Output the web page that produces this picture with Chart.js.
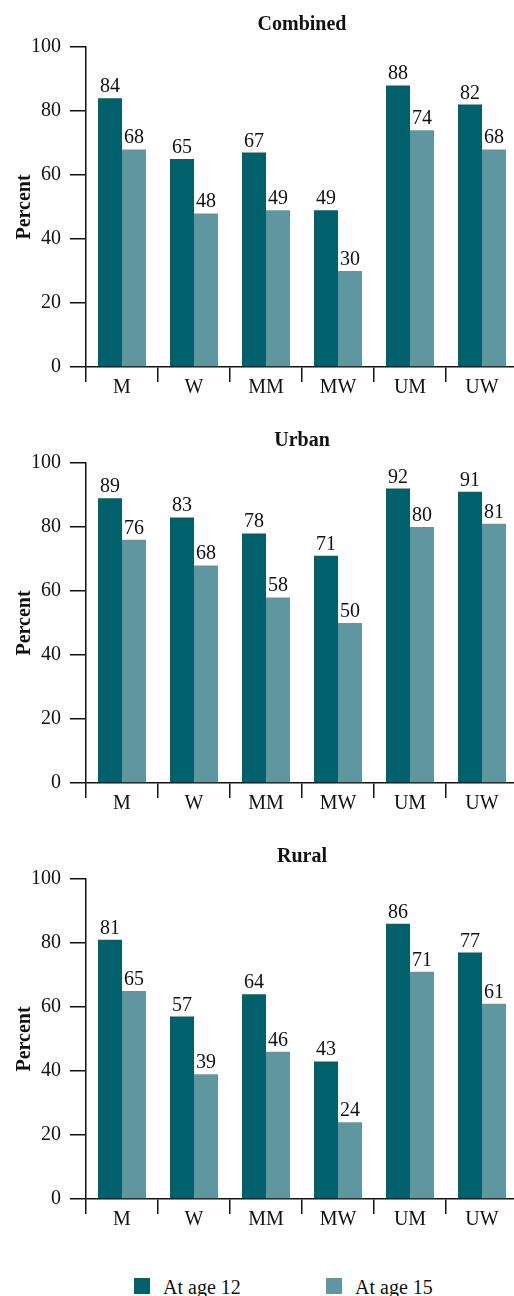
<!DOCTYPE html>
<html>
<head>
<meta charset="utf-8">
<script src="https://cdn.jsdelivr.net/npm/chart.js@4/dist/chart.umd.min.js"></script>
<style>
  html, body { margin: 0; padding: 0; background: #fff; }
  #wrap { position: relative; width: 514px; height: 1296px; overflow: hidden; }
  canvas { position: absolute; left: 0; }
  .leg { position: absolute; top: 1277px; font: 20px 'Liberation Serif', 'DejaVu Serif', serif; color: #111; line-height: 20px; }
  .sw { position: absolute; top: 1278px; width: 16px; height: 16px; }
</style>
</head>
<body>
<div id="wrap">
  <canvas id="c0" width="518" height="416" style="top:0px"></canvas>
  <canvas id="c1" width="518" height="416" style="top:416px"></canvas>
  <canvas id="c2" width="518" height="416" style="top:832px"></canvas>
  <div class="sw" style="left:134px;background:#00616C"></div>
  <div class="leg" style="left:163px">At age 12</div>
  <div class="sw" style="left:326px;background:#6096A0"></div>
  <div class="leg" style="left:355px">At age 15</div>
</div>
<script>
const categories = ['M', 'W', 'MM', 'MW', 'UM', 'UW'];
const panelTitles = ['Combined', 'Urban', 'Rural'];
const seriesNames = ['At age 12', 'At age 15'];
const yTicks = [0, 20, 40, 60, 80, 100];

const combined12 = [84, 65, 67, 49, 88, 82];
const combined15 = [68, 48, 49, 30, 74, 68];
const urban12 = [89, 83, 78, 71, 92, 91];
const urban15 = [76, 68, 58, 50, 80, 81];
const rural12 = [81, 57, 64, 43, 86, 77];
const rural15 = [65, 39, 46, 24, 71, 61];

const panels = [[combined12, combined15], [urban12, urban15], [rural12, rural15]];
const colors = ['#00616C', '#6096A0'];
const FONT = "'Liberation Serif', 'DejaVu Serif', serif";
const AX = '#111';

const valueLabels = {
  id: 'valueLabels',
  afterDatasetsDraw(chart) {
    const ctx = chart.ctx;
    ctx.save();
    ctx.font = '20px ' + FONT;
    ctx.fillStyle = '#111';
    ctx.textAlign = 'center';
    ctx.textBaseline = 'alphabetic';
    chart.data.datasets.forEach((ds, di) => {
      chart.getDatasetMeta(di).data.forEach((bar, i) => {
        ctx.fillText(String(ds.data[i]), bar.x, bar.y - 6);
      });
    });
    ctx.restore();
  }
};

panels.forEach((vals, p) => {
  new Chart(document.getElementById('c' + p), {
    type: 'bar',
    data: {
      labels: categories,
      datasets: vals.map((v, k) => ({
        label: seriesNames[k],
        data: v,
        backgroundColor: colors[k],
        borderWidth: 0,
        barPercentage: 1.0,
        categoryPercentage: 2 / 3
      }))
    },
    options: {
      responsive: false,
      animation: false,
      devicePixelRatio: 1,
      layout: { padding: 0 },
      plugins: {
        legend: { display: false },
        tooltip: { enabled: false },
        title: {
          display: true,
          text: panelTitles[p],
          fullSize: false,
          color: '#111',
          font: { family: FONT, size: 20, weight: 'bold', lineHeight: 1.2 },
          padding: { top: 13, bottom: 10 }
        }
      },
      scales: {
        x: {
          grid: { display: true, drawOnChartArea: false, drawTicks: true, tickLength: 15, color: AX, lineWidth: 1.5, offset: true },
          border: { display: true, color: AX, width: 1.5 },
          ticks: { color: '#111', font: { family: FONT, size: 20 }, padding: -6, maxRotation: 0 },
          afterFit(s) { s.height = 49; }
        },
        y: {
          min: 0, max: 100,
          afterBuildTicks(s) { s.ticks = yTicks.map(v => ({ value: v })); },
          grid: { display: true, drawOnChartArea: false, drawTicks: true, tickLength: 16, color: AX, lineWidth: 1.5 },
          border: { display: true, color: AX, width: 1.5 },
          ticks: { color: '#111', font: { family: FONT, size: 20 }, padding: 9 },
          title: {
            display: true, text: 'Percent', color: '#111',
            font: { family: FONT, size: 20, weight: 'bold', lineHeight: 1.2 },
            padding: { top: 13, bottom: 0 }
          },
          afterFit(s) { s.width = 86; }
        }
      }
    },
    plugins: [valueLabels]
  });
});
</script>
</body>
</html>
